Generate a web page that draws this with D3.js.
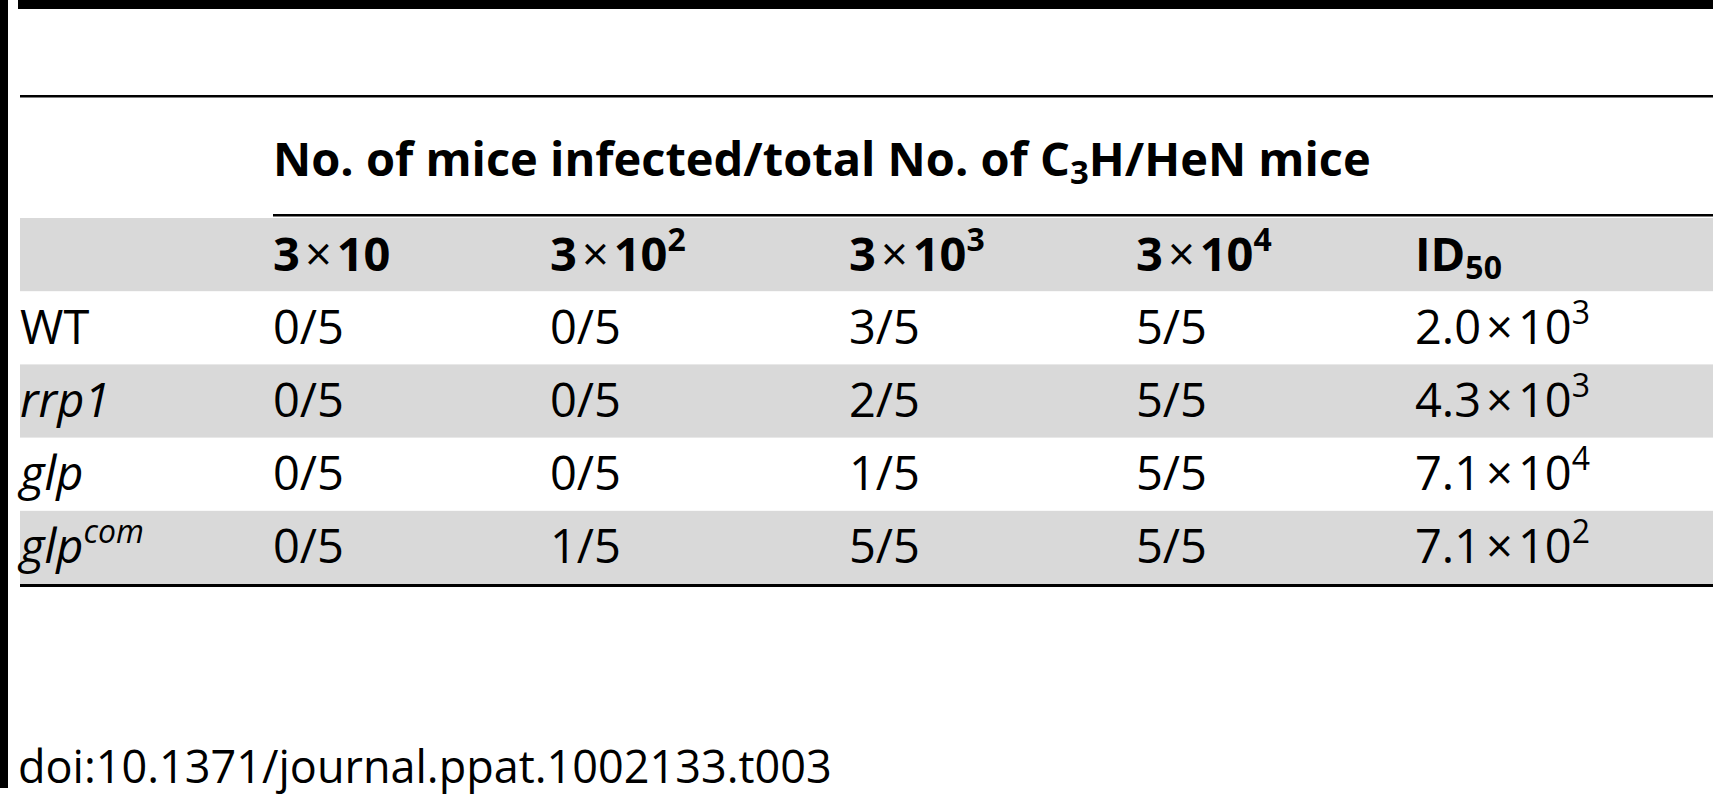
<!DOCTYPE html>
<html><head><meta charset="utf-8">
<script src="https://cdn.jsdelivr.net/npm/d3@7"></script>
<style>body{margin:0;background:#fff}svg{display:block;font-family:"Open Sans",sans-serif}</style>
</head><body><svg id="c" width="1713" height="800"></svg>
<script>
const groupTitle = "No. of mice infected/total No. of C₃H/HeN mice";
const doses = [["3","×","10",""],["3","×","10","2"],["3","×","10","3"],["3","×","10","4"]];
const strains = [["WT",""],["rrp1",""],["glp",""],["glp","com"]];
const strainItalic = [false,true,true,true];
const infected = [
  ["0/5","0/5","3/5","5/5"],
  ["0/5","0/5","2/5","5/5"],
  ["0/5","0/5","1/5","5/5"],
  ["0/5","1/5","5/5","5/5"]
];
const id50 = [["2.0","3"],["4.3","3"],["7.1","4"],["7.1","2"]];
const doi = "doi:10.1371/journal.ppat.1002133.t003";

const svg = d3.select("#c");
const W = 1713, FS = 47;
const colX = d3.scaleOrdinal().domain([0,1,2,3,4,5]).range([20,273,550,849,1136,1415]);
const rowY = d3.scaleBand().domain(d3.range(5)).range([218,584]);

[0,2,4].forEach(i=>svg.append("rect").attr("x",20).attr("y",rowY(i)).attr("width",W-20).attr("height",rowY.bandwidth()).attr("fill","#d9d9d9"));

svg.append("rect").attr("x",0).attr("y",0).attr("width",8).attr("height",788).attr("fill","#000");
svg.append("rect").attr("x",18).attr("y",0).attr("width",W-18).attr("height",9).attr("fill","#000");
svg.append("rect").attr("x",20).attr("y",95).attr("width",W-20).attr("height",2.5).attr("fill","#000");
svg.append("rect").attr("x",273).attr("y",214).attr("width",W-273).attr("height",2.5).attr("fill","#000");
svg.append("rect").attr("x",20).attr("y",584).attr("width",W-20).attr("height",3).attr("fill","#000");

const gt = svg.append("text").attr("x",273).attr("y",176).attr("font-size",FS).attr("font-weight","bold");
gt.append("tspan").text("No. of mice infected/total No. of C");
gt.append("tspan").attr("font-size",FS*0.7).attr("dy",8).text("3");
gt.append("tspan").attr("dy",-8).text("H/HeN mice");

const base = i => rowY(i) + rowY.bandwidth()/2 + 16;

function pow(t, m, x, e){
  t.append("tspan").text(m);
  t.append("tspan").attr("font-weight","normal").attr("dx",5).text(x);
  t.append("tspan").attr("dx",5).text(e[0]);
  if (e[1]) t.append("tspan").attr("font-size",FS*0.68).attr("dy",-20).text(e[1]);
}
doses.forEach((d,j)=>{
  const t = svg.append("text").attr("x",colX(j+1)).attr("y",base(0)).attr("font-size",FS).attr("font-weight","bold");
  pow(t, d[0], d[1], [d[2], d[3]]);
});
const idh = svg.append("text").attr("x",colX(5)).attr("y",base(0)).attr("font-size",FS).attr("font-weight","bold");
idh.append("tspan").text("ID");
idh.append("tspan").attr("font-size",FS*0.68).attr("dy",8).text("50");

strains.forEach((s,i)=>{
  const y = base(i+1);
  const t = svg.append("text").attr("x",colX(0)).attr("y",y).attr("font-size",FS).attr("font-style",strainItalic[i]?"italic":"normal");
  t.append("tspan").text(s[0]);
  if (s[1]) t.append("tspan").attr("font-size",FS*0.68).attr("dy",-20).text(s[1]);
  infected[i].forEach((v,j)=>svg.append("text").attr("x",colX(j+1)).attr("y",y).attr("font-size",FS).text(v));
  const u = svg.append("text").attr("x",colX(5)).attr("y",y).attr("font-size",FS);
  pow(u, id50[i][0], "×", ["10", id50[i][1]]);
});

svg.append("text").attr("x",18).attr("y",783).attr("font-size",45).text(doi);
</script></body></html>
